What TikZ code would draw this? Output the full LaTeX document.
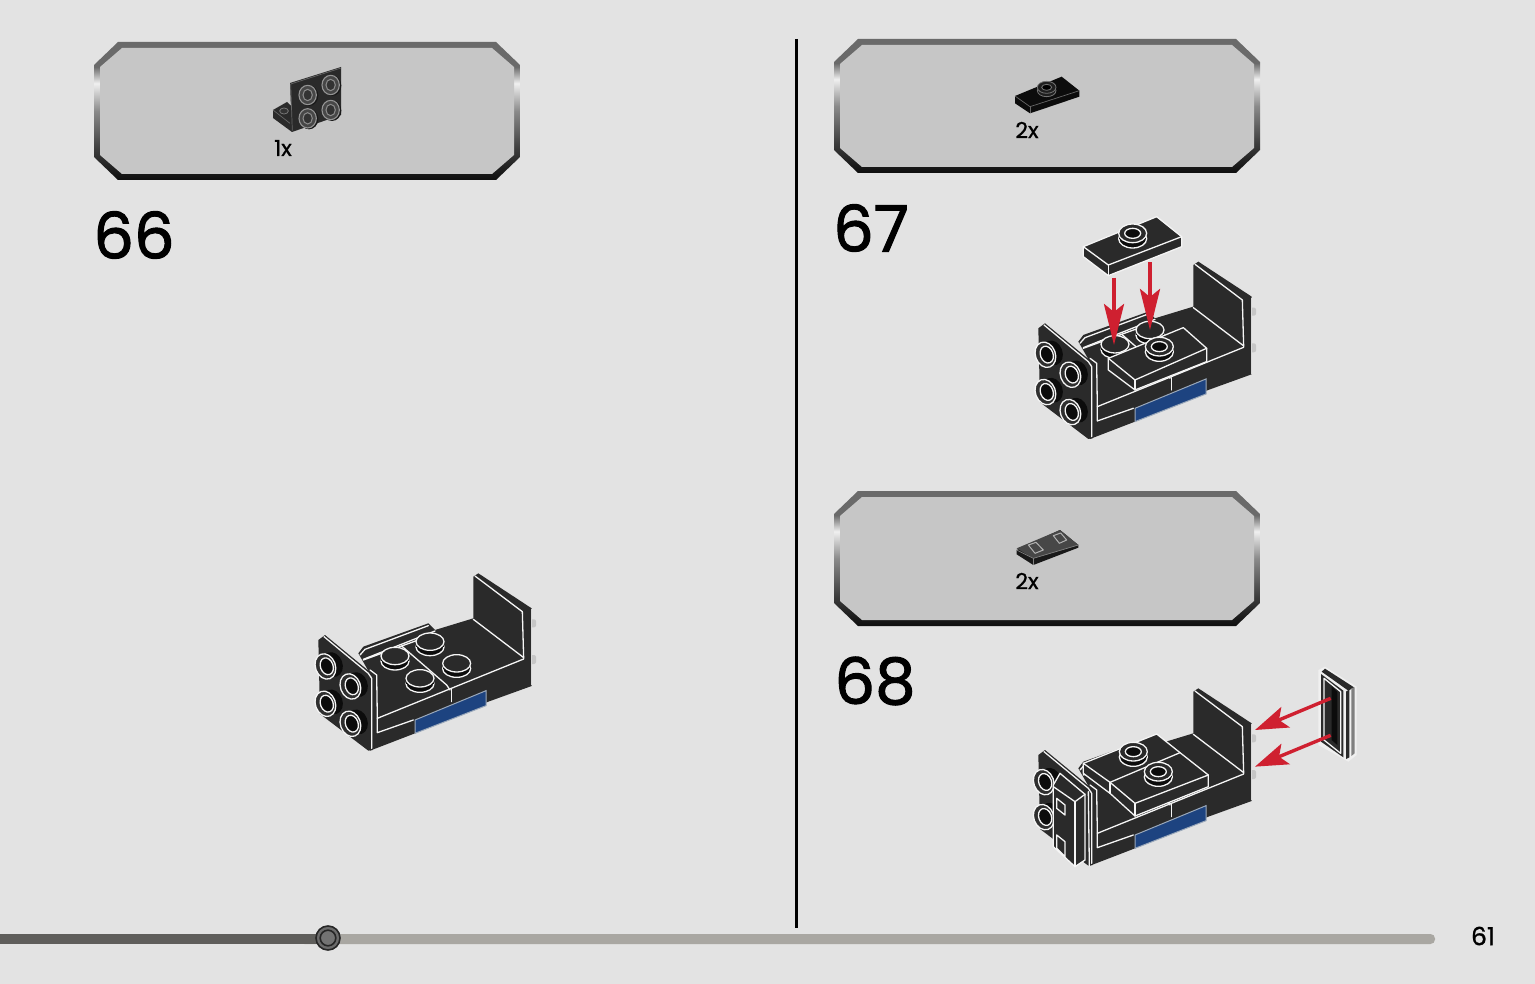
\documentclass[tikz,border=0pt]{standalone}
\usepackage{fontspec}
\setmainfont{Poppins}[FakeBold=1]
\newfontfamily\numfont{Poppins}[FakeBold=1.6]
\usetikzlibrary{arrows.meta}
\definecolor{pagebg}{HTML}{E3E3E3}
\definecolor{panelbg}{HTML}{C6C6C6}
\definecolor{brick}{HTML}{2A2A2A}
\definecolor{brickdark}{HTML}{0C0C0C}
\definecolor{navy}{HTML}{1D4380}
\definecolor{navyedge}{HTML}{9AA8BA}
\definecolor{redarrow}{HTML}{CF2030}
\definecolor{barlight}{HTML}{A9A7A2}
\definecolor{bardark}{HTML}{5F5E5B}
\definecolor{bA}{HTML}{0E0E0E}
\definecolor{bB}{HTML}{3C3C3C}
\definecolor{bC}{HTML}{8A8A8A}
\definecolor{bD}{HTML}{F0F0F0}
\definecolor{bE}{HTML}{6A6A6A}
\pgfdeclareverticalshading{panelrim}{100bp}{
 color(0bp)=(bA); color(25bp)=(bA); color(36bp)=(bB); color(50bp)=(bC);
 color(60bp)=(bD); color(66bp)=(bE); color(75bp)=(bE); color(100bp)=(bE)}
\tikzset{
 wl/.style={draw=white!92!gray,line width=1.3pt,line join=round,line cap=round},
 gl/.style={draw=#1,line width=.7pt,line join=round},
 redarr/.style={draw=redarrow,line width=4pt,-{Stealth[length=41pt,width=20pt,inset=8pt]}},
 redarrb/.style={draw=redarrow,line width=3.4pt,-{Stealth[length=33pt,width=22pt,inset=7pt]}},
 countlabel/.style={font=\fontsize{22}{22}\selectfont,inner sep=0pt,text=black},
 steplabel/.style={font=\numfont\fontsize{64}{64}\selectfont,inner sep=0pt,text=black},
 localz/.style={x=.33333pt,y=-.33333pt},
}
\newcommand\panelbox[4]{%
 \shade[shading=panelrim] (#1+24,#2)--(#3-24,#2)--(#3,#2+23)--(#3,#4-23)--(#3-24,#4)--(#1+24,#4)--(#1,#4-23)--(#1,#2+23)--cycle;
 \fill[panelbg] (#1+28,#2+6)--(#3-28,#2+6)--(#3-6,#2+25)--(#3-6,#4-25)--(#3-28,#4-6)--(#1+28,#4-6)--(#1+6,#4-25)--(#1+6,#2+25)--cycle;
}
\newcommand\solidstud[2]{%
 \begin{scope}[shift={(#1,#2)}]
  \draw[wl,fill=brickdark] (0,16) circle[x radius=42,y radius=26];
  \fill[brickdark] (-41,0) rectangle (41,16);
  \draw[wl,fill=brick] (0,0) circle[x radius=42,y radius=26];
 \end{scope}}
\newcommand\hollowstud[2]{%
 \begin{scope}[shift={(#1,#2)}]
  \draw[wl,fill=brickdark] (0,16) circle[x radius=42,y radius=28];
  \fill[brickdark] (-41,0) rectangle (41,16);
  \draw[wl,fill=brick] (0,0) circle[x radius=42,y radius=28];
  \draw[wl,fill=brickdark] (0,0) circle[x radius=24,y radius=15];
 \end{scope}}
\newcommand\sidestud[2]{%
 \begin{scope}[shift={(#1,#2)},rotate=20]
  \fill[brickdark] (18,2) circle[x radius=30,y radius=38];
  \draw[wl,fill=brickdark!70!gray] (-4,0) circle[x radius=30,y radius=39];
  \draw[wl,fill=brickdark] (0,1) circle[x radius=19,y radius=26];
 \end{scope}}
\newcommand\brickbody{%
 \fill[gray!45,rounded corners=2pt] (690,178) rectangle (708,202);
 \fill[gray!45,rounded corners=2pt] (690,285) rectangle (708,312);
 \fill[brick] (175,280)--(190,260)--(385,190)--(405,210)--(520,175)--(520,50)--(535,40)--(695,145)--(695,378)--(565,425)--(345,520)--(210,572)--(215,350)--cycle;
 \fill[brick] (55,240)--(75,225)--(215,340)--(218,570)--(205,572)--(60,462)--cycle;
 \draw[wl] (525,48)--(667,155)--(671,295);
 \draw[gl=white!70!gray] (695,148)--(695,376);
 \draw[wl] (520,178)--(670,292);
 \draw[wl] (671,297)--(232,475)--(232,518)--(340,480);
 \draw[wl] (210,330)--(230,345)--(232,475);
 \draw[wl] (455,388)--(455,425);
 \draw[wl] (305,258)--(440,375)--(450,390);
 \draw[wl] (190,300)--(305,258)--(360,238);
 \draw[wl] (180,285)--(195,268)--(385,197);
 \draw[wl] (190,298)--(405,213);
 \draw[wl] (72,230)--(205,340)--(215,355)--(215,565);
 \draw[draw=navyedge,line width=1pt,fill=navy] (345,480)--(558,392)--(558,437)--(345,520)--cycle;
}
\newcommand\sidestuds{\sidestud{80}{318}\sidestud{155}{378}\sidestud{80}{430}\sidestud{155}{490}}
\begin{document}
\begin{tikzpicture}[x=1pt,y=-1pt]
\useasboundingbox (0,0) rectangle (1535,984);
\fill[pagebg] (0,0) rectangle (1535,984);

\coordinate (divtop) at (796,39);
\coordinate (divbot) at (796,928);
\draw[black,line width=3pt] (divtop)--(divbot);
\fill[barlight,rounded corners=4.5pt] (300,934) rectangle (1435,944);
\fill[bardark] (0,934) rectangle (328,944);
\draw[line width=1.6pt,draw=black!85,fill=black!58] (328,938) circle[radius=12];
\draw[line width=1.6pt,draw=black!85,fill=black!55] (328,938) circle[radius=7.8];
\node[font=\fontsize{25}{25}\selectfont,inner sep=0pt] (page) at (1483,936) {61};

\panelbox{94}{42}{520}{180}
\panelbox{834}{39}{1260}{173}
\panelbox{834}{491}{1260}{626}

\node[countlabel] (c1) at (283,148) {1x};
\node[countlabel] (c2) at (1027,130) {2x};
\node[countlabel] (c3) at (1027,581) {2x};
\node[steplabel] (s66) at (134,235) {66};
\node[steplabel] (s67) at (871,228) {67};
\node[steplabel] (s68) at (875,681) {68};

% part icon 66
\begin{scope}[shift={(260,60)},localz]
 \fill[brick] (39,150)--(81,126)--(96,140)--(96,216)--(39,174)--cycle;
 \draw[line width=.8pt,draw=black!55,fill=black!80] (72,153) circle[x radius=13,y radius=9];
 \draw[gl=black!60] (39,150)--(90,190);
 \fill[brick] (90,69)--(243,21)--(243,165)--(96,216)--cycle;
 \draw[gl=black!60] (92,72)--(243,24);
 \draw[gl=black!60] (92,72)--(97,212);
 \foreach \sx/\sy in {143/105,212/75,143/175,212/150}{
  \fill[black!90] (\sx+4,\sy+2) circle[x radius=28,y radius=31];
  \draw[line width=1.1pt,draw=black!42,fill=black!72] (\sx,\sy) circle[x radius=26,y radius=29];
  \draw[line width=1pt,draw=black!45,fill=black!80] (\sx,\sy) circle[x radius=14,y radius=17];
 }
\end{scope}
% part icon 67
\begin{scope}[shift={(990,60)},localz]
 \fill[brickdark] (75,108)--(215,50)--(268,92)--(268,110)--(120,160)--(75,130)--cycle;
 \draw[gl=black!60] (75,108)--(120,140)--(268,92);
 \draw[gl=black!60] (120,140)--(120,160);
 \draw[line width=.8pt,draw=black!55,fill=black!88] (170,92) circle[x radius=28,y radius=18];
 \draw[line width=.8pt,draw=black!55,fill=black!88] (170,82) circle[x radius=28,y radius=18];
 \draw[line width=.8pt,draw=black!55,fill=black] (170,82) circle[x radius=15,y radius=9];
\end{scope}
% part icon 68
\begin{scope}[shift={(990,515)},localz]
 \fill[black!90] (80,105)--(210,45)--(265,90)--(265,98)--(130,150)--(80,118)--cycle;
 \fill[black!72] (80,100)--(210,45)--(265,90)--(130,130)--cycle;
 \draw[gl=black!30,line width=1pt] (115,90)--(138,82)--(160,105)--(135,115)--cycle;
 \draw[gl=black!30,line width=1pt] (190,62)--(212,54)--(230,75)--(208,85)--cycle;
 \draw[gl=black!50] (80,105)--(130,130)--(265,90);
 \draw[gl=black!50] (130,130)--(130,150);
\end{scope}

% stage 66
\begin{scope}[shift={(300,560)},localz]
 \brickbody
 \sidestuds
 \solidstud{285}{288}
 \solidstud{390}{245}
 \solidstud{470}{310}
 \solidstud{360}{355}
\end{scope}

% stage 67
\begin{scope}[shift={(1020,248.3)},localz]
 \brickbody
 \sidestuds
 \solidstud{285}{288}
 \solidstud{390}{245}
 \draw[wl,fill=brick] (265,330)--(490,238)--(560,300)--(560,340)--(345,425)--(265,365)--cycle;
 \draw[wl] (265,330)--(345,395)--(560,300);
 \draw[wl] (345,395)--(345,425);
 \hollowstud{418}{295}
\end{scope}
\begin{scope}[shift={(1020,205)},localz]
 \draw[wl,fill=brick] (190,125)--(410,35)--(485,95)--(485,125)--(265,212)--(190,155)--cycle;
 \draw[wl] (190,125)--(265,180)--(485,95);
 \draw[wl] (265,180)--(265,212);
 \hollowstud{338}{85}
 \coordinate (a1s) at (282,218);
 \coordinate (a1e) at (282,420);
 \coordinate (a2s) at (390,172);
 \coordinate (a2e) at (390,375);
 \draw[redarr] (a1s)--(a1e);
 \draw[redarr] (a2s)--(a2e);
\end{scope}

% stage 68
\begin{scope}[shift={(1020,675)},localz]
 \brickbody
 \sidestud{75}{320}
 \sidestud{75}{425}
 \draw[wl,fill=brick] (190,265)--(410,177)--(480,233)--(565,300)--(565,335)--(345,423)--(270,355)--(190,295)--cycle;
 \draw[wl] (190,265)--(270,322)--(480,233);
 \draw[wl] (270,322)--(345,385)--(565,300);
 \draw[wl] (270,322)--(270,355);
 \draw[wl] (345,385)--(345,423);
 \hollowstud{340}{230}
 \hollowstud{415}{290}
 \draw[wl,fill=brick] (100,330)--(120,295)--(195,358)--(195,555)--(165,575)--(100,515)--cycle;
 \draw[wl] (100,335)--(165,380)--(195,358);
 \draw[wl] (165,380)--(165,575);
 \draw[wl] (110,370)--(135,390)--(135,420)--(110,400)--cycle;
 \draw[wl] (110,480)--(135,500)--(135,545)--(110,520)--cycle;
 \draw[wl] (205,350)--(208,573);
\end{scope}
% loose part and arrows of stage 68
\begin{scope}[shift={(1020,660)},localz]
 \fill[white!88!gray] (895,30)--(915,20)--(1010,80)--(1010,285)--(985,305)--(895,255)--cycle;
 \fill[brick] (903,42)--(970,92)--(970,292)--(903,245)--cycle;
 \fill[brick] (915,26)--(1002,82)--(985,92)--(905,35)--cycle;
 \fill[brick] (978,95)--(988,88)--(988,292)--(978,297)--cycle;
 \fill[black!50] (994,85)--(1004,82)--(1004,280)--(994,288)--cycle;
 \draw[wl] (912,55)--(962,95)--(962,280)--(912,240)--cycle;
 \fill[brickdark] (935,80)--(952,95)--(952,255)--(935,240)--cycle;
 \coordinate (b1s) at (932,115);
 \coordinate (b1e) at (705,210);
 \coordinate (b2s) at (932,226);
 \coordinate (b2e) at (705,320);
 \draw[redarrb] (b1s)--(b1e);
 \draw[redarrb] (b2s)--(b2e);
\end{scope}
\end{tikzpicture}
\end{document}
